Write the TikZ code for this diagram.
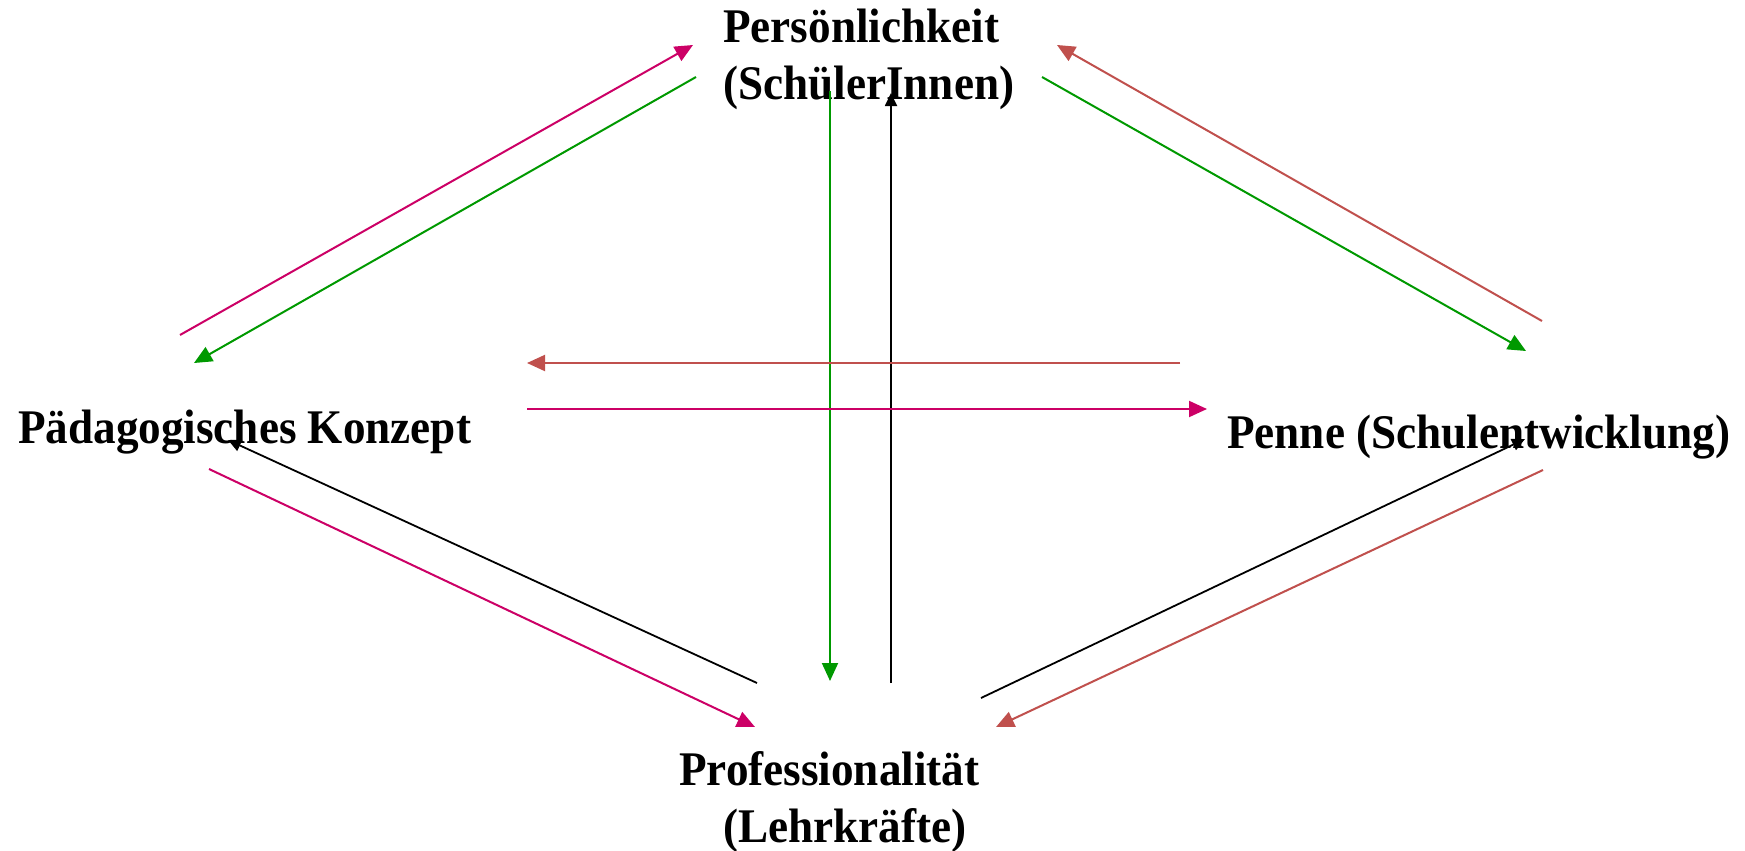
\documentclass[tikz,border=0pt]{standalone}
\usepackage{fontspec}
\setmainfont{Liberation Serif}[FakeStretch=0.935]
\usetikzlibrary{arrows.meta}
\definecolor{cmag}{RGB}{204,0,102}
\definecolor{cgrn}{RGB}{0,153,0}
\definecolor{cred}{RGB}{192,80,77}
\begin{document}
\begin{tikzpicture}[x=1pt,y=-1pt,
  lbl/.style={inner sep=0pt, anchor=base west, font=\fontsize{48.3}{57}\selectfont\bfseries},
  conn/.style={line width=2pt, -{Triangle[length=18pt,width=16pt]}},
  bconn/.style={line width=1.8pt, black, -{Triangle[length=13pt,width=12pt]}}]
\useasboundingbox[fill=white] (0,0) rectangle (1745,851);
% labels
\node[lbl] (per) at (723,43) {\vtop{\hbox{Persönlichkeit}\hbox{(SchülerInnen)}}};
\node[lbl] (paed) at (18,443) {Pädagogisches Konzept};
\node[lbl] (penne) at (1227,448) {Penne (Schulentwicklung)};
\node[lbl] (prof) at (679,785) {\vtop{\hbox{Professionalität}\hbox{\hspace*{44pt}(Lehrkräfte)}}};
% connector end points
\coordinate (a1s) at (180,335);  \coordinate (a1e) at (693,45);
\coordinate (a2s) at (696,77);   \coordinate (a2e) at (194,363);
\coordinate (a3s) at (830,91);   \coordinate (a3e) at (830,681);
\coordinate (a4s) at (891,683);  \coordinate (a4e) at (891,93);
\coordinate (a5s) at (1542,321); \coordinate (a5e) at (1057,45);
\coordinate (a6s) at (1042,77);  \coordinate (a6e) at (1526,351);
\coordinate (a7s) at (1180,363); \coordinate (a7e) at (527,363);
\coordinate (a8s) at (527,409);  \coordinate (a8e) at (1207,409);
\coordinate (a9s) at (757,683);  \coordinate (a9e) at (228,440);
\coordinate (a10s) at (209,469); \coordinate (a10e) at (755,727);
\coordinate (a11s) at (981,698); \coordinate (a11e) at (1525,439);
\coordinate (a12s) at (1543,470);\coordinate (a12e) at (996,727);
% connectors
\draw[conn, cmag] (a1s) -- (a1e);
\draw[conn, cgrn] (a2s) -- (a2e);
\draw[conn, cgrn] (a3s) -- (a3e);
\draw[bconn] (a4s) -- (a4e);
\draw[conn, cred] (a5s) -- (a5e);
\draw[conn, cgrn] (a6s) -- (a6e);
\draw[conn, cred] (a7s) -- (a7e);
\draw[conn, cmag] (a8s) -- (a8e);
\draw[bconn] (a9s) -- (a9e);
\draw[conn, cmag] (a10s) -- (a10e);
\draw[bconn] (a11s) -- (a11e);
\draw[conn, cred] (a12s) -- (a12e);
\end{tikzpicture}
\end{document}
